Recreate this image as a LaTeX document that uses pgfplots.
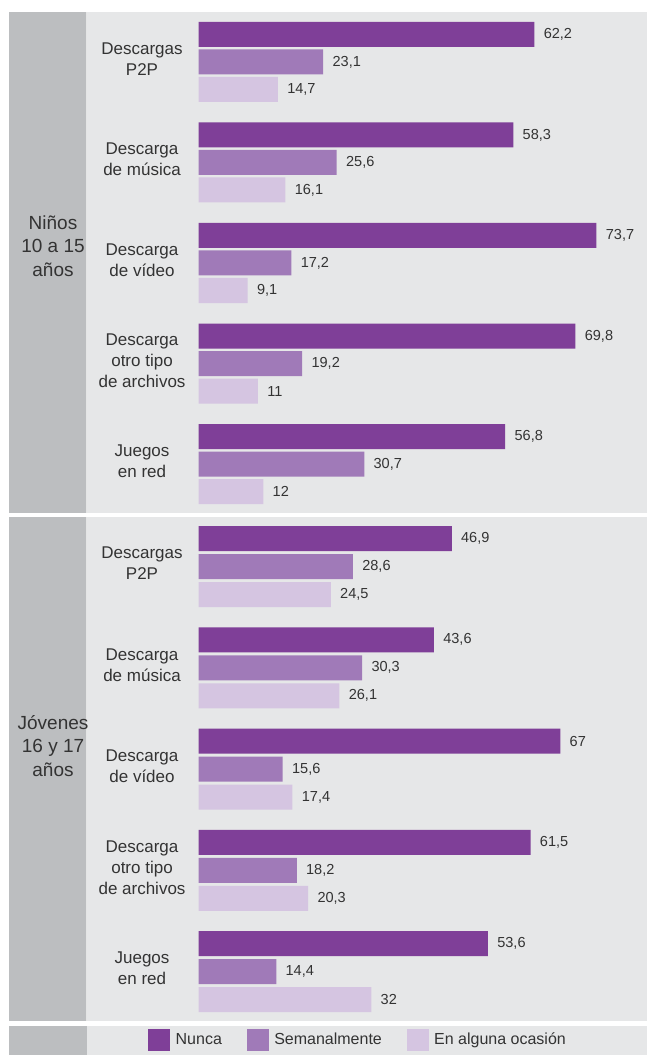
\documentclass[border=0pt]{standalone}
\usepackage{pgfplots}
\pgfplotsset{compat=1.18}
\usepackage{fontspec}
\setmainfont{Liberation Sans}
\definecolor{cN}{HTML}{7F3F98}
\definecolor{cS}{HTML}{A07AB8}
\definecolor{cO}{HTML}{D5C5E1}
\definecolor{bgL}{HTML}{E6E7E8}
\definecolor{bgD}{HTML}{BCBEC0}
\definecolor{txt}{HTML}{333333}
\begin{document}
\begin{tikzpicture}
\begin{axis}[
  width=485.25pt, height=791.25pt, scale only axis,
  xmin=-36.759, xmax=83.056, ymin=0, ymax=1055, y dir=reverse,
  hide axis, clip=false,
  xbar, bar width=25, bar shift=0pt,
  nodes near coords, point meta=x,
  /pgf/number format/use comma,
  /pgf/number format/assume math mode=true,
  nodes near coords style={font=\fontsize{10.9}{13}\selectfont, text=txt, xshift=3.5pt},
  legend columns=3,
  legend image code/.code={\fill[#1] (0pt,-8.25pt) rectangle (16.5pt,8.25pt); \path (18.75pt,0pt);},
  legend style={at={(axis cs:-9.35,1040)}, anchor=west, draw=none, fill=none,
    inner sep=0pt, outer sep=0pt, font=\fontsize{12}{14}\selectfont, text=txt,
    /tikz/every even column/.append style={column sep=16.5pt}},
  legend cell align=left,
]
% backgrounds
\fill[white] (axis cs:-36.759,0) rectangle (axis cs:83.056,1055);
\fill[bgL] (axis cs:-20.65,12) rectangle (axis cs:83.056,512.5);
\fill[bgL] (axis cs:-20.65,517) rectangle (axis cs:83.056,1021);
\fill[bgL] (axis cs:-20.65,1026) rectangle (axis cs:83.056,1055);
\fill[bgD] (axis cs:-35.09,12) rectangle (axis cs:-20.65,512.5);
\fill[bgD] (axis cs:-35.09,517) rectangle (axis cs:-20.65,1021);
\fill[bgD] (axis cs:-35.09,1026) rectangle (axis cs:-20.65,1055);
\draw[white, opacity=0.6, line width=0.75pt] (axis cs:-20.65,12) -- (axis cs:-20.65,512.5);
\draw[white, opacity=0.6, line width=0.75pt] (axis cs:-20.65,517) -- (axis cs:-20.65,1021);

\addplot[fill=cN, draw=none] coordinates {
 (62.2,34.5) (58.3,135) (73.7,235.5) (69.8,336) (56.8,436.5)
 (46.9,538.5) (43.6,639.75) (67,741) (61.5,842.25) (53.6,943.5)};
\addlegendentry{Nunca}
\addplot[fill=cS, draw=none] coordinates {
 (23.1,62) (25.6,162.5) (17.2,263) (19.2,363.5) (30.7,464)
 (28.6,566.5) (30.3,667.75) (15.6,769) (18.2,870.25) (14.4,971.5)};
\addlegendentry{Semanalmente}
\addplot[fill=cO, draw=none] coordinates {
 (14.7,89.5) (16.1,190) (9.1,290.5) (11,391) (12,491.5)
 (24.5,594.5) (26.1,695.75) (17.4,797) (20.3,898.25) (32,999.5)};
\addlegendentry{En alguna ocasión}

% category labels
\tikzset{cat/.style={align=center, text=txt, font=\fontsize{12.75}{15.75}\selectfont, inner sep=0pt},
         grp/.style={align=center, text=txt, font=\fontsize{14.25}{17.6}\selectfont, inner sep=0pt}}
\node[cat] at (axis cs:-10.46,59) {Descargas\\P2P};
\node[cat] at (axis cs:-10.46,159.5) {Descarga\\de música};
\node[cat] at (axis cs:-10.46,260) {Descarga\\de vídeo};
\node[cat] at (axis cs:-10.46,360.5) {Descarga\\otro tipo\\de archivos};
\node[cat] at (axis cs:-10.46,461) {Juegos\\en red};
\node[cat] at (axis cs:-10.46,563.5) {Descargas\\P2P};
\node[cat] at (axis cs:-10.46,664.75) {Descarga\\de música};
\node[cat] at (axis cs:-10.46,766) {Descarga\\de vídeo};
\node[cat] at (axis cs:-10.46,867.25) {Descarga\\otro tipo\\de archivos};
\node[cat] at (axis cs:-10.46,968.5) {Juegos\\en red};
\node[grp] at (axis cs:-26.94,246) {Niños\\10 a 15\\años};
\node[grp] at (axis cs:-26.94,746) {Jóvenes\\16 y 17\\años};
\end{axis}
\end{tikzpicture}
\end{document}
